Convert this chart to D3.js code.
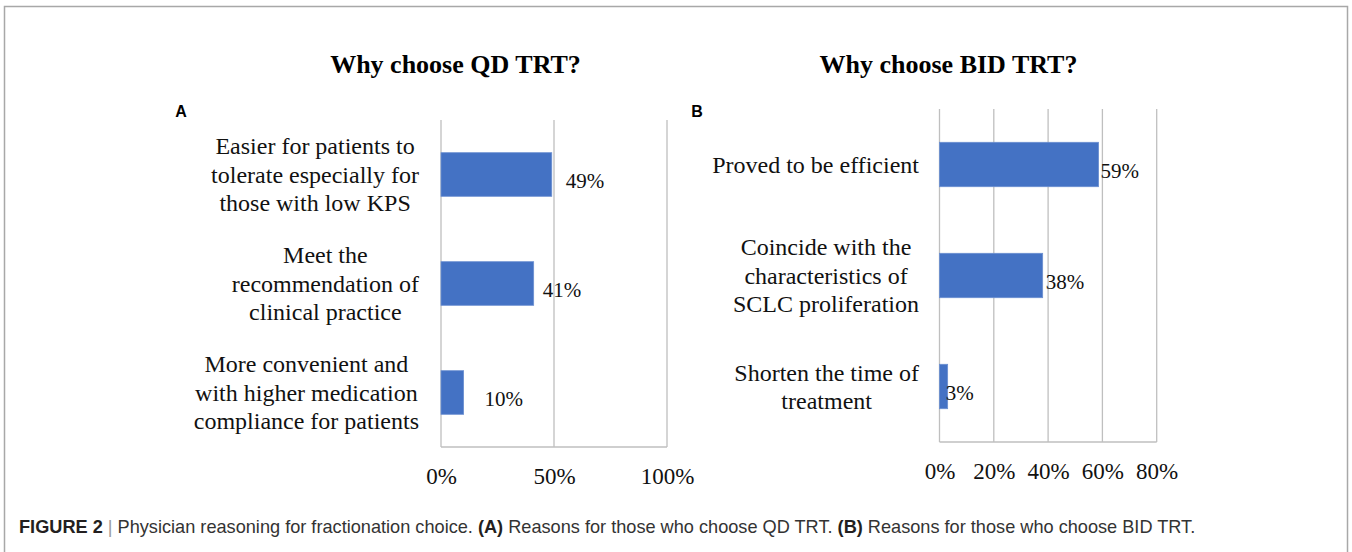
<!DOCTYPE html>
<html lang="en">
	<head>
		<meta charset="utf-8">
		<title>Why choose QD / BID TRT</title>
		<script type="text/javascript" src="https://cdn.jsdelivr.net/npm/d3@7"></script>
		<style type="text/css">
			html, body {
				margin: 0;
				padding: 0;
				background-color: white;
			}
			svg {
				display: block;
			}
		</style>
	</head>
	<body>
		<script type="text/javascript">

			//Panel A data
			var qdReasons = [
				["Easier for patients to", "tolerate especially for", "those with low KPS"],
				["Meet the", "recommendation of", "clinical practice"],
				["More convenient and", "with higher medication", "compliance for patients"]
			];
			var qdShares = [0.49, 0.41, 0.10];
			var qdTicks = [0, 0.5, 1];

			//Panel B data
			var bidReasons = [
				["Proved to be efficient"],
				["Coincide with the", "characteristics of", "SCLC proliferation"],
				["Shorten the time of", "treatment"]
			];
			var bidShares = [0.586, 0.38, 0.03];
			var bidTicks = [0, 0.2, 0.4, 0.6, 0.8];

			//where the hand-placed data labels sit, relative to the bar end
			var qdLabelDx = [14, 9, 21];
			var bidLabelDx = [2, 3, -2];

			var w = 1352;
			var h = 552;
			var serif = "'Liberation Serif', 'Times New Roman', serif";
			var sans = "'Liberation Sans', Arial, sans-serif";
			var barColor = "#4472c4";
			var gridColor = "#bfbfbf";

			var svg = d3.select("body")
						.append("svg")
						.attr("width", w)
						.attr("height", h);

			//outer frame
			svg.append("rect")
				.attr("x", 4.5)
				.attr("y", 6.5)
				.attr("width", 1343)
				.attr("height", 600)
				.attr("fill", "none")
				.attr("stroke", "#a8a8a8")
				.attr("stroke-width", 1.5);

			function drawPanel(opt) {
				var g = svg.append("g");

				var xScale = d3.scaleLinear()
								.domain([0, d3.max(opt.ticks)])
								.range([opt.left, opt.right]);

				var yScale = d3.scaleBand()
								.domain(d3.range(opt.shares.length))
								.range([opt.top, opt.bottom])
								.paddingInner(0.6)
								.paddingOuter(0.3);

				//title
				g.append("text")
					.text(opt.title)
					.attr("x", opt.titleX)
					.attr("y", 73)
					.attr("text-anchor", "middle")
					.attr("font-family", serif)
					.attr("font-weight", "bold")
					.attr("font-size", "26px")
					.attr("fill", "#000");

				//panel letter
				g.append("text")
					.text(opt.letter)
					.attr("x", opt.letterX)
					.attr("y", 117)
					.attr("text-anchor", "middle")
					.attr("font-family", sans)
					.attr("font-weight", "bold")
					.attr("font-size", "16px")
					.attr("fill", "#000");

				//vertical gridlines
				g.selectAll("line.grid")
					.data(opt.ticks)
					.enter()
					.append("line")
					.attr("class", "grid")
					.attr("x1", function(d) { return xScale(d); })
					.attr("x2", function(d) { return xScale(d); })
					.attr("y1", opt.top)
					.attr("y2", opt.bottom)
					.attr("stroke", gridColor)
					.attr("stroke-width", 1.3);

				//bottom line
				g.append("line")
					.attr("x1", xScale(0))
					.attr("x2", xScale(d3.max(opt.ticks)))
					.attr("y1", opt.bottom)
					.attr("y2", opt.bottom)
					.attr("stroke", gridColor)
					.attr("stroke-width", 1.3);

				//bars
				g.selectAll("rect.bar")
					.data(opt.shares)
					.enter()
					.append("rect")
					.attr("class", "bar")
					.attr("x", xScale(0))
					.attr("y", function(d, i) { return yScale(i); })
					.attr("width", function(d) { return xScale(d) - xScale(0); })
					.attr("height", yScale.bandwidth())
					.attr("fill", barColor)
					.attr("stroke", "#6b8fd0")
					.attr("stroke-width", 0.8);

				//data labels
				var fmt = d3.format(".0%");
				g.selectAll("text.val")
					.data(opt.shares)
					.enter()
					.append("text")
					.attr("class", "val")
					.text(function(d) { return fmt(d); })
					.attr("x", function(d, i) { return xScale(d) + opt.labelDx[i]; })
					.attr("y", function(d, i) { return yScale(i) + yScale.bandwidth() / 2 + 6.5; })
					.attr("dy", "0.35em")
					.attr("font-family", serif)
					.attr("font-size", "21px")
					.attr("fill", "#111");

				//x axis ticks
				var xAxis = d3.axisBottom()
								.scale(xScale)
								.tickValues(opt.ticks)
								.tickSize(0)
								.tickPadding(21)
								.tickFormat(fmt);

				var ax = g.append("g")
					.attr("transform", "translate(0," + opt.bottom + ")")
					.call(xAxis);
				ax.select(".domain").remove();
				ax.selectAll("text")
					.attr("font-family", serif)
					.attr("font-size", "23px")
					.attr("fill", "#111");

				//category labels: lines centred, block right-aligned
				var lineH = 28.5;
				opt.reasons.forEach(function(lines, i) {
					var cy = yScale(i) + yScale.bandwidth() / 2;
					var t = g.append("text")
						.attr("font-family", serif)
						.attr("font-size", "24px")
						.attr("fill", "#111")
						.attr("text-anchor", "middle");
					var spans = t.selectAll("tspan")
						.data(lines)
						.enter()
						.append("tspan")
						.text(function(d) { return d; })
						.attr("y", function(d, j) { return cy + (j - (lines.length - 1) / 2) * lineH; })
						.attr("dy", "0.35em");
					var maxW = 0;
					spans.each(function() {
						maxW = Math.max(maxW, this.getComputedTextLength());
					});
					spans.attr("x", opt.labelRight - maxW / 2);
				});
			}

			drawPanel({
				title: "Why choose QD TRT?",
				titleX: 455.5,
				letter: "A",
				letterX: 181,
				reasons: qdReasons,
				shares: qdShares,
				ticks: qdTicks,
				labelDx: qdLabelDx,
				left: 441,
				right: 667,
				top: 120,
				bottom: 447,
				labelRight: 419
			});

			drawPanel({
				title: "Why choose BID TRT?",
				titleX: 948.5,
				letter: "B",
				letterX: 697,
				reasons: bidReasons,
				shares: bidShares,
				ticks: bidTicks,
				labelDx: bidLabelDx,
				left: 939.5,
				right: 1156.7,
				top: 109,
				bottom: 442,
				labelRight: 919
			});

			//caption, squeezed sideways to match the condensed face
			var capG = svg.append("g");
			var cap = capG.append("text")
				.attr("x", 0)
				.attr("y", 0)
				.attr("font-family", sans)
				.attr("font-size", "19px")
				.attr("fill", "#333");

			var capParts = [
				["FIGURE 2", "bold", "#231f20"],
				[" | ", "normal", "#9a9a9a"],
				["Physician reasoning for fractionation choice. ", "normal", "#333"],
				["(A)", "bold", "#231f20"],
				[" Reasons for those who choose QD TRT. ", "normal", "#333"],
				["(B)", "bold", "#231f20"],
				[" Reasons for those who choose BID TRT.", "normal", "#333"]
			];

			cap.attr("xml:space", "preserve")
				.selectAll("tspan")
				.data(capParts)
				.enter()
				.append("tspan")
				.text(function(d) { return d[0]; })
				.attr("font-weight", function(d) { return d[1]; })
				.attr("fill", function(d) { return d[2]; });

			var capW = cap.node().getComputedTextLength();
			capG.attr("transform", "translate(19,533) scale(" + (1177 / capW) + ",1)");

		</script>
	</body>
</html>
